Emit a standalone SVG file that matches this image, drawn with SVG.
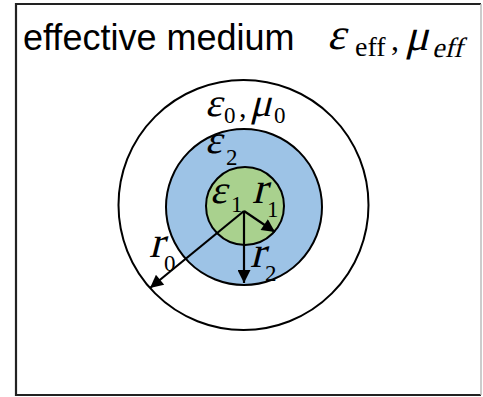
<svg xmlns="http://www.w3.org/2000/svg" width="483" height="397" viewBox="0 0 483 397">
<defs>
<style>
.frame{stroke:#222;stroke-width:2.2;fill:none}
.ring{stroke:#000;stroke-width:2}
.arr{stroke:#000;stroke-width:2.2;fill:none;marker-end:url(#ah)}
.sans{font-family:"Liberation Sans",Arial,sans-serif;fill:#000}
.mi{font-family:"Liberation Serif","Times New Roman",serif;fill:#000}
.sub{font-family:"Liberation Serif","Times New Roman",serif;fill:#000}
</style>
<marker id="ah" viewBox="0 0 10 10" refX="10" refY="5" markerUnits="userSpaceOnUse" markerWidth="16" markerHeight="13" orient="auto">
<path d="M0,0 L10,5 L0,10 z" fill="#000"/>
</marker>
</defs>
<rect x="0" y="0" width="483" height="397" fill="#fff"/>
<g id="frame">
<line class="frame" x1="15" y1="4" x2="481" y2="4"/>
<line class="frame" x1="16" y1="3" x2="16" y2="396"/>
<line class="frame" x1="15" y1="395" x2="481" y2="395"/>
<line x1="481" y1="4" x2="481" y2="395" stroke="#bbb" stroke-width="1.5"/>
</g>
<g id="title">
<text class="sans" x="23" y="50" font-size="36">effective medium</text>
<text class="mi" transform="translate(327,49) skewX(-14)" font-size="44">ε</text>
<text class="sub" x="355" y="56" font-size="28">eff</text>
<text class="sub" x="391" y="50" font-size="32">,</text>
<text class="mi" transform="translate(405,50) skewX(-14)" font-size="44">μ</text>
<text class="mi" transform="translate(432,57) skewX(-14)" font-size="28">eff</text>
</g>
<g id="outer">
<circle class="ring" cx="243.5" cy="205" r="125" fill="#fff"/>
<text class="mi" transform="translate(205,116) skewX(-14)" font-size="40">ε</text>
<text class="sub" x="224" y="123" font-size="23">0</text>
<text class="sub" x="239" y="117" font-size="30">,</text>
<text class="mi" transform="translate(250,116) skewX(-14)" font-size="40">μ</text>
<text class="sub" x="274" y="123" font-size="23">0</text>
</g>
<g id="shell">
<circle class="ring" cx="244" cy="207" r="78" fill="#9dc3e6"/>
<text class="mi" transform="translate(205,153) skewX(-14)" font-size="40">ε</text>
<text class="sub" x="226" y="165" font-size="23">2</text>
</g>
<g id="core">
<circle class="ring" cx="245" cy="206" r="39" fill="#a9d18e"/>
<text class="mi" transform="translate(210,203) skewX(-14)" font-size="40">ε</text>
<text class="sub" x="231" y="212" font-size="23">1</text>
</g>
<g id="connectors">
<line class="arr" x1="244" y1="211" x2="275" y2="232"/>
<line class="arr" x1="244" y1="211" x2="244" y2="283"/>
<line class="arr" x1="244" y1="211" x2="150" y2="288"/>
</g>
<g id="labels">
<text class="mi" transform="translate(252,203) skewX(-14)" font-size="44">r</text>
<text class="sub" x="267" y="217" font-size="23">1</text>
<text class="mi" transform="translate(250,267) skewX(-14)" font-size="44">r</text>
<text class="sub" x="265" y="281" font-size="23">2</text>
<text class="mi" transform="translate(149,257) skewX(-14)" font-size="44">r</text>
<text class="sub" x="164" y="271" font-size="23">0</text>
</g>
</svg>
